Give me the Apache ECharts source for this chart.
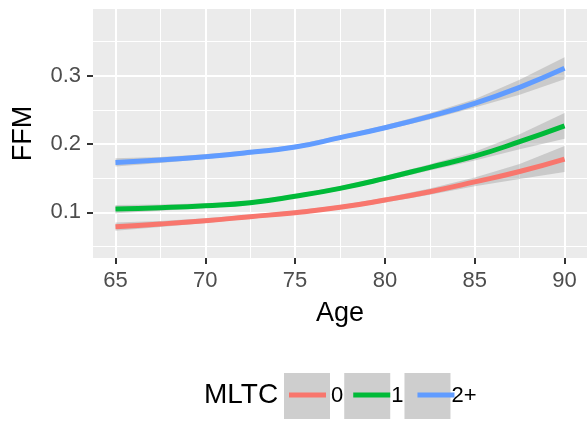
<!DOCTYPE html>
<html>
<head>
<meta charset="utf-8">
<script src="https://cdn.jsdelivr.net/npm/echarts@6/dist/echarts.min.js"></script>
<style>
  html, body { margin: 0; padding: 0; background: #ffffff; }
  #chart { width: 587px; height: 421px; }
</style>
</head>
<body>
<div id="chart"></div>
<script>
// Fitted FFM by age for each MLTC group, with confidence bands
const ages = [65, 67.5, 70, 72.5, 75, 77.5, 80, 82.5, 85, 87.5, 90];
const groups = ['0', '1', '2+'];
const colors = ['#F8766D', '#00BA38', '#619CFF'];

const fit0 = [0.079, 0.0829, 0.0877, 0.0936, 0.0995, 0.1073, 0.118, 0.1302, 0.1445, 0.1598, 0.178];
const low0 = [0.073, 0.0784, 0.0842, 0.0906, 0.0965, 0.1043, 0.1145, 0.1257, 0.138, 0.1488, 0.159];
const upp0 = [0.085, 0.0874, 0.0912, 0.0966, 0.1025, 0.1103, 0.1215, 0.1347, 0.151, 0.1708, 0.197];

const fit1 = [0.1048, 0.1068, 0.1097, 0.1141, 0.1235, 0.1351, 0.1497, 0.1659, 0.1822, 0.2034, 0.2266];
const low1 = [0.0988, 0.1023, 0.1062, 0.1111, 0.1205, 0.1321, 0.1462, 0.1614, 0.1757, 0.1924, 0.2076];
const upp1 = [0.1108, 0.1113, 0.1132, 0.1171, 0.1265, 0.1381, 0.1532, 0.1704, 0.1887, 0.2144, 0.2456];

const fit2 = [0.173, 0.1766, 0.1814, 0.1878, 0.1955, 0.2093, 0.2239, 0.2405, 0.2595, 0.283, 0.3108];
const low2 = [0.167, 0.1721, 0.1779, 0.1848, 0.1925, 0.2063, 0.2204, 0.236, 0.2535, 0.272, 0.295];
const upp2 = [0.179, 0.1811, 0.1849, 0.1908, 0.1985, 0.2123, 0.2274, 0.245, 0.2655, 0.294, 0.327];

const xMajor = [65, 70, 75, 80, 85, 90];
const xMinor = [67.5, 72.5, 77.5, 82.5, 87.5];
const yMajor = [0.1, 0.2, 0.3];
const yMinor = [0.05, 0.15, 0.25, 0.35];

const fits = [fit0, fit1, fit2];
const lows = [low0, low1, low2];
const upps = [upp0, upp1, upp2];

const FONT = '"Liberation Sans", Arial, sans-serif';
const X_MIN = 63.75, X_MAX = 91.25;
const Y_MIN = 0.0331, Y_MAX = 0.3977;

const pairs = (xs, ys) => xs.map((x, i) => [x, ys[i]]);

const series = [];
// confidence ribbons drawn as one polygon per group
groups.forEach((g, k) => {
  series.push({
    type: 'custom', name: 'band-' + g, xAxisIndex: 0, yAxisIndex: 0,
    silent: true, z: 1,
    data: ages.map((x, i) => [x, lows[k][i], upps[k][i]]),
    encode: { x: 0, y: [1, 2] },
    renderItem: function (params, api) {
      if (params.dataIndex !== 0) return null;
      const top = ages.map((x, i) => api.coord([x, upps[k][i]]));
      const bottom = ages.map((x, i) => api.coord([x, lows[k][i]])).reverse();
      return {
        type: 'polygon',
        shape: { points: top.concat(bottom) },
        style: { fill: 'rgba(153,153,153,0.4)', stroke: null }
      };
    }
  });
});
// fitted curves
groups.forEach((g, k) => {
  series.push({
    type: 'line', name: g, xAxisIndex: 0, yAxisIndex: 0,
    data: pairs(ages, fits[k]), smooth: true, showSymbol: false,
    lineStyle: { color: colors[k], width: 5 },
    itemStyle: { color: colors[k] }, z: 3
  });
});

const tickLabel = { color: '#4D4D4D', fontSize: 22, fontFamily: FONT, margin: 12 };
const axisTitle = { color: '#000000', fontSize: 27, fontFamily: FONT };

const option = {
  animation: false,
  backgroundColor: '#ffffff',
  title: {
    text: 'MLTC', left: 204, top: 381, padding: 0,
    textStyle: { color: '#000000', fontSize: 28, fontWeight: 'normal', fontFamily: FONT }
  },
  grid: {
    left: 93, top: 9, width: 495, height: 249,
    show: true, backgroundColor: '#EBEBEB', borderWidth: 0
  },
  xAxis: [
    {
      type: 'value', min: X_MIN, max: X_MAX,
      name: 'Age', nameLocation: 'middle', nameGap: 42, nameTextStyle: axisTitle,
      axisLine: { show: false },
      axisTick: { show: true, length: 6, customValues: xMajor, lineStyle: { color: '#333333', width: 2 } },
      axisLabel: Object.assign({ customValues: xMajor }, tickLabel),
      splitLine: { show: true, lineStyle: { color: '#FFFFFF', width: 2 } }
    },
    {
      type: 'value', min: X_MIN, max: X_MAX, position: 'bottom',
      axisLine: { show: false }, axisLabel: { show: false },
      axisTick: { show: false, customValues: xMinor },
      splitLine: { show: true, lineStyle: { color: '#FFFFFF', width: 1 } }
    }
  ],
  yAxis: [
    {
      type: 'value', min: Y_MIN, max: Y_MAX,
      name: 'FFM', nameLocation: 'middle', nameGap: 56, nameRotate: 90, nameTextStyle: axisTitle,
      axisLine: { show: false },
      axisTick: { show: true, length: 6, customValues: yMajor, lineStyle: { color: '#333333', width: 2 } },
      axisLabel: Object.assign({ customValues: yMajor, formatter: v => v.toFixed(1) }, tickLabel),
      splitLine: { show: true, lineStyle: { color: '#FFFFFF', width: 2 } }
    },
    {
      type: 'value', min: Y_MIN, max: Y_MAX, position: 'left',
      axisLine: { show: false }, axisLabel: { show: false },
      axisTick: { show: false, customValues: yMinor },
      splitLine: { show: true, lineStyle: { color: '#FFFFFF', width: 1 } }
    }
  ],
  legend: [
    {
      // grey key backgrounds with labels
      data: groups.map(g => ({ name: g, icon: 'rect', itemStyle: { color: '#CECECE', borderWidth: 0 } })),
      left: 284, top: 373, padding: 0, itemWidth: 46, itemHeight: 46, itemGap: 1,
      selectedMode: false, orient: 'horizontal',
      textStyle: { color: '#000000', fontSize: 22, fontFamily: FONT, padding: [0, 0, 0, -4] }
    },
    {
      // coloured line samples on the keys
      data: groups.map(g => ({ name: g, icon: 'rect' })),
      left: 289, top: 384, padding: 0, itemWidth: 37, itemHeight: 5, itemGap: 10,
      selectedMode: false, orient: 'horizontal',
      textStyle: { color: 'rgba(0,0,0,0)', fontSize: 22, fontFamily: FONT }
    }
  ],
  series: series
};

const chart = echarts.init(document.getElementById('chart'), null, { renderer: 'canvas' });
chart.setOption(option);
</script>
</body>
</html>
